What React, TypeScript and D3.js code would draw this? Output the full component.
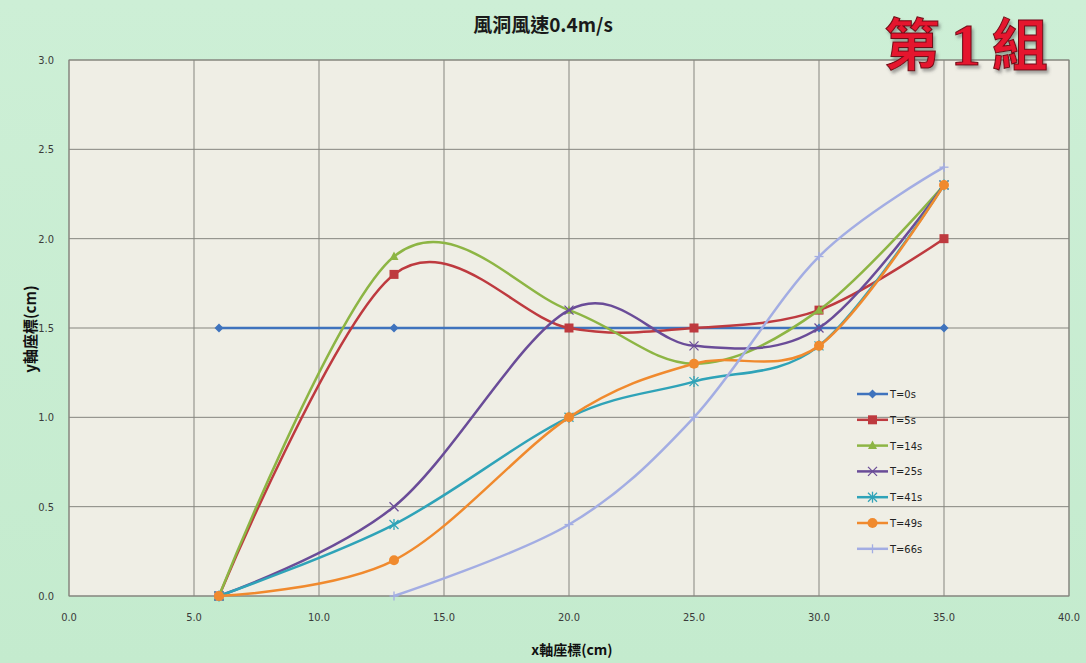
import React, { useEffect } from "react";
import * as d3 from "d3";

const xTicks = [0, 5, 10, 15, 20, 25, 30, 35, 40];
const yTicks = [0, 0.5, 1.0, 1.5, 2.0, 2.5, 3.0];

const seriesNames = ["T=0s", "T=5s", "T=14s", "T=25s", "T=41s", "T=49s", "T=66s"];
const seriesColors = ["#3F73BD", "#BE3A3F", "#8DB544", "#6A4C98", "#2FA3B8", "#F08A2E", "#A3ADE3"];
const seriesShapes = ["diamond", "square", "triangle", "x", "star", "circle", "plus"];

const xs = [6, 13, 20, 25, 30, 35];
const xs66 = [13, 20, 25, 30, 35];
const t0 = [1.5, 1.5, 1.5, 1.5, 1.5, 1.5];
const t5 = [0, 1.8, 1.5, 1.5, 1.6, 2.0];
const t14 = [0, 1.9, 1.6, 1.3, 1.6, 2.3];
const t25 = [0, 0.5, 1.6, 1.4, 1.5, 2.3];
const t41 = [0, 0.4, 1.0, 1.2, 1.4, 2.3];
const t49 = [0, 0.2, 1.0, 1.3, 1.4, 2.3];
const t66 = [0, 0.4, 1.0, 1.9, 2.4];

const seriesX = [xs, xs, xs, xs, xs, xs, xs66];
const seriesY = [t0, t5, t14, t25, t41, t49, t66];

const W = 1086;
const H = 663;
const L = 69, R = 1069, T = 60, B = 596;

function Marker({ shape, x, y, color }: { shape: string; x: number; y: number; color: string }) {
  const s = 4.5;
  switch (shape) {
    case "diamond":
      return <polygon points={`${x},${y - s} ${x + s},${y} ${x},${y + s} ${x - s},${y}`} fill={color} />;
    case "square":
      return <rect x={x - s} y={y - s} width={2 * s} height={2 * s} fill={color} />;
    case "triangle":
      return <polygon points={`${x},${y - s - 0.5} ${x + s},${y + s - 1} ${x - s},${y + s - 1}`} fill={color} />;
    case "x":
      return (
        <g stroke={color} strokeWidth={1.3}>
          <line x1={x - s} y1={y - s} x2={x + s} y2={y + s} />
          <line x1={x - s} y1={y + s} x2={x + s} y2={y - s} />
        </g>
      );
    case "star":
      return (
        <g stroke={color} strokeWidth={1.3}>
          <line x1={x - s} y1={y - s} x2={x + s} y2={y + s} />
          <line x1={x - s} y1={y + s} x2={x + s} y2={y - s} />
          <line x1={x} y1={y - s - 1} x2={x} y2={y + s + 1} />
        </g>
      );
    case "circle":
      return <circle cx={x} cy={y} r={s + 0.5} fill={color} />;
    case "plus":
      return (
        <g stroke={color} strokeWidth={1.3}>
          <line x1={x - s} y1={y} x2={x + s} y2={y} />
          <line x1={x} y1={y - s} x2={x} y2={y + s} />
        </g>
      );
    default:
      return null;
  }
}

export default function App() {
  useEffect(() => {
    document.body.style.margin = "0";
  }, []);

  const xScale = d3.scaleLinear().domain([0, 40]).range([L, R]);
  const yScale = d3.scaleLinear().domain([0, 3]).range([B, T]);
  const line = d3
    .line<[number, number]>()
    .x((d) => xScale(d[0]))
    .y((d) => yScale(d[1]))
    .curve(d3.curveCardinal.tension(0));

  const tickFont = "'DejaVu Sans Condensed', 'Liberation Sans', sans-serif";
  const cjk = "'Noto Sans CJK TC', 'Noto Sans CJK SC', sans-serif";

  return (
    <svg width={W} height={H} style={{ display: "block" }} xmlns="http://www.w3.org/2000/svg">
      <defs>
        <linearGradient id="bg" x1="0" y1="0" x2="0" y2="1">
          <stop offset="0" stopColor="#CDEFD6" />
          <stop offset="1" stopColor="#C4EBCE" />
        </linearGradient>
        <filter id="shadow" x="-10%" y="-10%" width="130%" height="140%">
          <feDropShadow dx="2" dy="3" stdDeviation="1.5" floodColor="#555" floodOpacity="0.5" />
        </filter>
      </defs>
      <rect x={0} y={0} width={W} height={H} fill="url(#bg)" />
      <rect x={L} y={T} width={R - L} height={B - T} fill="#EFEEE5" />

      {/* gridlines */}
      {yTicks.map((t) => (
        <line key={"gy" + t} x1={L} x2={R} y1={yScale(t)} y2={yScale(t)} stroke="#85857F" strokeWidth={1} />
      ))}
      {xTicks.map((t) => (
        <line key={"gx" + t} x1={xScale(t)} x2={xScale(t)} y1={T} y2={B} stroke="#85857F" strokeWidth={1} />
      ))}
      <rect x={L} y={T} width={R - L} height={B - T} fill="none" stroke="#85857F" strokeWidth={1} />

      {/* tick labels */}
      {yTicks.map((t) => (
        <text key={"ty" + t} x={54} y={yScale(t) + 4} textAnchor="end" fontSize={11} fontFamily={tickFont} fill="#3A3A3A">
          {t.toFixed(1)}
        </text>
      ))}
      {xTicks.map((t) => (
        <text key={"tx" + t} x={xScale(t)} y={621} textAnchor="middle" fontSize={11} fontFamily={tickFont} fill="#3A3A3A">
          {t.toFixed(1)}
        </text>
      ))}

      {/* series */}
      {seriesY.map((ys, i) => {
        const pts: [number, number][] = ys.map((v, j) => [seriesX[i][j], v]);
        return (
          <g key={"s" + i}>
            <path d={line(pts) || ""} fill="none" stroke={seriesColors[i]} strokeWidth={2.5} />
            {pts.map((p, j) => (
              <Marker key={j} shape={seriesShapes[i]} x={xScale(p[0])} y={yScale(p[1])} color={seriesColors[i]} />
            ))}
          </g>
        );
      })}

      {/* legend */}
      {seriesNames.map((n, i) => {
        const ly = 394 + i * 25.8;
        return (
          <g key={"l" + i}>
            <line x1={857} x2={888} y1={ly} y2={ly} stroke={seriesColors[i]} strokeWidth={2.5} />
            <Marker shape={seriesShapes[i]} x={872.5} y={ly} color={seriesColors[i]} />
            <text x={890} y={ly + 4} fontSize={11} fontFamily={tickFont} fill="#222">
              {n}
            </text>
          </g>
        );
      })}

      {/* title */}
      <text x={543} y={32} textAnchor="middle" fontSize={19} fontWeight="bold" fontFamily={cjk} fill="#1A1A1A">
        風洞風速0.4m/s
      </text>

      {/* axis titles */}
      <text x={572} y={655} textAnchor="middle" fontSize={14} fontWeight="bold" fontFamily={cjk} fill="#111">
        x軸座標(cm)
      </text>
      <text
        transform="translate(36,329) rotate(-90)"
        textAnchor="middle"
        fontSize={15}
        fontWeight="bold"
        fontFamily={cjk}
        fill="#111"
      >
        y軸座標(cm)
      </text>

      {/* group label */}
      <text
        x={884}
        y={65}
        fontSize={56}
        fontWeight={700}
        fontFamily={cjk}
        fill="#E5132E"
        stroke="#6E0A14"
        strokeWidth={1}
        filter="url(#shadow)"
        textLength={164}
        lengthAdjust="spacing"
      >
        第<tspan fontFamily="'Liberation Serif', 'DejaVu Serif', serif" fontWeight={700} fontSize={60}>1</tspan>組
      </text>
    </svg>
  );
}
